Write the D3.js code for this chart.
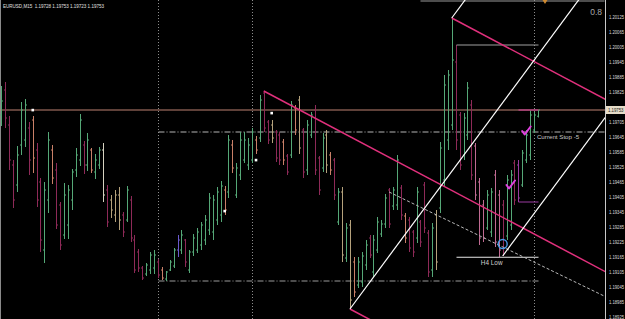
<!DOCTYPE html>
<html><head><meta charset="utf-8">
<script src="https://cdn.jsdelivr.net/npm/d3@7"></script>
<style>html,body{margin:0;padding:0;background:#000;overflow:hidden}</style>
</head><body><svg id="c" width="625" height="319"></svg>
<script>
// ---------- DATA ----------
const symbolTitle = "EURUSD,M15  1.19728 1.19753 1.19723 1.19753";
const highs = [1.19849,1.19865,1.19729,1.19553,1.19609,1.19785,1.19797,1.19705,1.19729,1.19621,
1.19481,1.19465,1.19665,1.19613,1.19541,1.19385,1.19461,1.19453,1.19517,1.19601,
1.19737,1.19629,1.19661,1.19601,1.19577,1.19605,1.19621,1.19453,1.19413,1.19433,
1.19445,1.19345,1.19449,1.19409,1.19253,1.19197,1.19129,1.19141,1.19185,1.19193,
1.19157,1.19125,1.19109,1.19153,1.19201,1.19253,1.19273,1.19237,1.19193,1.19257,
1.19281,1.19305,1.19333,1.19421,1.19413,1.19445,1.19469,1.19449,1.19653,1.19633,
1.19541,1.19665,1.19665,1.19641,1.19681,1.19649,1.19813,1.19829,1.19713,1.19713,
1.19673,1.19665,1.19637,1.19577,1.19789,1.19773,1.19809,1.19681,1.19713,1.19745,
1.19773,1.19569,1.19661,1.19673,1.19585,1.19561,1.19441,1.19445,1.19301,1.19313,
1.19165,1.19165,1.19185,1.19233,1.19253,1.19253,1.19325,1.19313,1.19417,1.19441,
1.19445,1.19573,1.19453,1.19341,1.19325,1.19273,1.19445,1.19313,1.19465,1.19273,
1.19301,1.19353,1.19625,1.19893,1.19913,1.20121,1.20013,1.19745,1.19741,1.19865,
1.19793,1.19621,1.19481,1.19393,1.19433,1.19441,1.19513,1.19433,1.19393,1.19493,
1.19513,1.19553,1.19553,1.19593,1.19673,1.19753,1.19745,1.19753];
const lows = [1.19689,1.19681,1.19513,1.19361,1.19425,1.19573,1.19605,1.19493,1.19501,1.19365,
1.19185,1.19141,1.19341,1.19457,1.19277,1.19193,1.19237,1.19237,1.19353,1.19485,
1.19529,1.19497,1.19509,1.19501,1.19477,1.19517,1.19385,1.19285,1.19321,1.19305,
1.19273,1.19245,1.19305,1.19225,1.19101,1.19105,1.19073,1.19089,1.19097,1.19097,
1.19081,1.19073,1.19069,1.19109,1.19121,1.19165,1.19177,1.19125,1.19101,1.19169,
1.19181,1.19193,1.19213,1.19253,1.19233,1.19293,1.19305,1.19333,1.19401,1.19501,
1.19401,1.19473,1.19541,1.19513,1.19541,1.19577,1.19625,1.19665,1.19617,1.19621,
1.19545,1.19533,1.19533,1.19493,1.19561,1.19653,1.19577,1.19481,1.19493,1.19641,
1.19493,1.19413,1.19505,1.19501,1.19493,1.19393,1.19293,1.19145,1.19145,1.18957,
1.19005,1.19041,1.19045,1.19113,1.19161,1.19085,1.19181,1.19245,1.19281,1.19281,
1.19353,1.19353,1.19313,1.19221,1.19185,1.19165,1.19221,1.19205,1.19261,1.19085,
1.19085,1.19113,1.19341,1.19445,1.19593,1.19673,1.19593,1.19513,1.19553,1.19633,
1.19473,1.19393,1.19213,1.19225,1.19273,1.19245,1.19205,1.19165,1.19169,1.19233,
1.19273,1.19373,1.19385,1.19445,1.19541,1.19553,1.19661,1.19723];
const opens = [1.19733,1.19833,1.19693,1.19533,1.19453,1.19613,1.19633,1.19681,1.19713,1.19593,
1.19465,1.19193,1.19393,1.19593,1.19513,1.19373,1.19253,1.19293,1.19393,1.19513,
1.19553,1.19613,1.19533,1.19593,1.19505,1.19533,1.19593,1.19433,1.19393,1.19333,
1.19413,1.19333,1.19313,1.19393,1.19233,1.19185,1.19121,1.19097,1.19113,1.19121,
1.19145,1.19113,1.19077,1.19113,1.19129,1.19193,1.19193,1.19233,1.19113,1.19185,
1.19193,1.19213,1.19233,1.19273,1.19265,1.19313,1.19333,1.19433,1.19425,1.19613,
1.19413,1.19493,1.19553,1.19533,1.19553,1.19633,1.19641,1.19821,1.19705,1.19693,
1.19665,1.19653,1.19625,1.19569,1.19573,1.19761,1.19793,1.19673,1.19513,1.19653,
1.19753,1.19561,1.19521,1.19653,1.19573,1.19553,1.19305,1.19425,1.19161,1.19293,
1.19145,1.19053,1.19065,1.19133,1.19241,1.19105,1.19193,1.19257,1.19297,1.19433,
1.19369,1.19373,1.19441,1.19329,1.19313,1.19265,1.19241,1.19305,1.19453,1.19261,
1.19113,1.19333,1.19361,1.19473,1.19633,1.19693,1.19945,1.19733,1.19573,1.19653,
1.19773,1.19609,1.19465,1.19373,1.19281,1.19265,1.19493,1.19413,1.19373,1.19249,
1.19293,1.19541,1.19533,1.19453,1.19553,1.19573,1.19673,1.19728];
const closes = [1.19789,1.19721,1.19553,1.19393,1.19573,1.19753,1.19773,1.19553,1.19561,1.19393,
1.19233,1.19433,1.19633,1.19481,1.19293,1.19213,1.19413,1.19433,1.19505,1.19573,
1.19713,1.19533,1.19633,1.19513,1.19553,1.19593,1.19413,1.19305,1.19353,1.19413,
1.19313,1.19265,1.19433,1.19241,1.19113,1.19121,1.19081,1.19133,1.19173,1.19173,
1.19093,1.19081,1.19105,1.19145,1.19193,1.19233,1.19253,1.19145,1.19185,1.19241,
1.19265,1.19293,1.19313,1.19401,1.19393,1.19425,1.19449,1.19353,1.19633,1.19521,
1.19521,1.19633,1.19633,1.19613,1.19665,1.19593,1.19793,1.19681,1.19633,1.19641,
1.19561,1.19553,1.19553,1.19505,1.19773,1.19673,1.19601,1.19505,1.19693,1.19733,
1.19513,1.19433,1.19641,1.19533,1.19513,1.19413,1.19425,1.19173,1.19281,1.18993,
1.19025,1.19145,1.19169,1.19213,1.19173,1.19233,1.19305,1.19297,1.19401,1.19297,
1.19433,1.19553,1.19333,1.19241,1.19201,1.19185,1.19425,1.19225,1.19281,1.19105,
1.19281,1.19145,1.19601,1.19853,1.19893,1.19953,1.19633,1.19533,1.19721,1.19841,
1.19493,1.19413,1.19241,1.19241,1.19413,1.19425,1.19225,1.19193,1.19201,1.19473,
1.19493,1.19393,1.19401,1.19581,1.19653,1.19733,1.19733,1.19753];
const barColorCodes = "grrrgggrsr"+"rggsrrgggg"+"grgsggwrtt"+"trgrrrrggg"+"rsgggbgrgg"+
  "gggggggsgs"+"gggggsgrrt"+"rrsrgstrgg"+"rrgtsrgtgt"+"sgggrggggr"+"ggrsrrgrrr"+
  "gtggggrrgg"+"rpppggpprg"+"grvggggg";
const priceLabels = [1.20125,1.20065,1.20005,1.19945,1.19885,1.19825,1.19705,1.19645,1.19585,
  1.19525,1.19465,1.19405,1.19345,1.19285,1.19225,1.19165,1.19105,1.19045,1.18985,1.18925];
const bidPrice = 1.19753;
const separatorBars = [40, 64, 136];
const stopLine = {from: 40, price: 1.19665, label: "Current Stop -5"};
const lowLine = {from: 40, to: 137, price: 1.19069};
const h4High = {from: 116, to: 137, price: 1.20013};
const h4Low = {from: 116, to: 137, price: 1.19164, label: "H4 Low"};
const topLine = {from: 107, to: 154, price: 1.20189};
const violetSeg = {from: 132, to: 137, price: 1.19385};
const magentaSeg = {from: 132, to: 137, price: 1.19753};
const pinkFork = [[67, 1.19829], [115, 1.20121], [89, 1.18957]];
const whiteFork = [[89, 1.18957], [115, 1.20121], [128, 1.19169]];
const dashTrend = [[99, 1.19425], [137, 1.19137]];
const fractalDots = [[8, 1.19753], [69, 1.19741], [65, 1.19553], [57, 1.19349]];
const checkMarks = [[134, 1.19669], [130, 1.19453]];
const circleMark = [128, 1.19217];
const shiftMarker = 138.8;
const indicatorLevel = "0.8";

// ---------- SCALES ----------
const W = 625, H = 319, plotRight = 605;
const xS = d3.scaleLinear().domain([0, 137]).range([1.33, 537.92]);
const yS = d3.scaleLinear().domain([1.20193, 1.18917]).range([0, 319]);
const colorMap = {g:"#55a877", r:"#8e2a58", s:"#c98068", t:"#b5a27c", w:"#d6d2c0",
  b:"#6a5acd", p:"#c06a92", v:"#9a3aa0"};
const FONT = "'Liberation Sans', Arial, sans-serif";

const svg = d3.select('#c');
svg.append('rect').attr('width', W).attr('height', H).attr('fill', '#000');
svg.append('defs').append('clipPath').attr('id', 'plot')
  .append('rect').attr('x', 0).attr('y', 0).attr('width', plotRight).attr('height', H);
const g = svg.append('g').attr('clip-path', 'url(#plot)');
const px = i => Math.round(xS(i)) + 0.5;

// left border
g.append('line').attr('x1', 0.5).attr('x2', 0.5).attr('y1', 0).attr('y2', H)
  .attr('stroke', '#8a8a8a').attr('stroke-width', 1);

// separators
g.selectAll('.sep').data(separatorBars).join('line')
  .attr('x1', d => px(d)).attr('x2', d => px(d)).attr('y1', 0).attr('y2', H)
  .attr('stroke', '#8c8c8c').attr('stroke-width', 1).attr('stroke-dasharray', '1,2');

// horizontal lines
g.append('line').attr('x1', 0).attr('x2', plotRight).attr('y1', yS(bidPrice)).attr('y2', yS(bidPrice))
  .attr('stroke', '#be8273').attr('stroke-width', 1);
g.append('line').attr('x1', px(stopLine.from)).attr('x2', plotRight)
  .attr('y1', yS(stopLine.price)).attr('y2', yS(stopLine.price))
  .attr('stroke', '#b4b4b4').attr('stroke-width', 1).attr('stroke-dasharray', '6,2,1,2');
g.append('line').attr('x1', px(lowLine.from)).attr('x2', px(lowLine.to))
  .attr('y1', yS(lowLine.price)).attr('y2', yS(lowLine.price))
  .attr('stroke', '#9a9a9a').attr('stroke-width', 1).attr('stroke-dasharray', '6,2,1,2');
g.append('line').attr('x1', px(topLine.from)).attr('x2', xS(topLine.to))
  .attr('y1', yS(topLine.price)).attr('y2', yS(topLine.price))
  .attr('stroke', '#9a9a9a').attr('stroke-width', 1.2);

// bars
const bars = d3.range(highs.length).map(i => ({i, h: highs[i], l: lows[i], o: opens[i], c: closes[i],
  col: colorMap[barColorCodes[i]]}));
const bg = g.append('g');
bg.selectAll('.hl').data(bars).join('line')
  .attr('x1', d => px(d.i)).attr('x2', d => px(d.i))
  .attr('y1', d => yS(d.h)).attr('y2', d => yS(d.l))
  .attr('stroke', d => d.col).attr('stroke-width', 1);
bg.selectAll('.op').data(bars).join('line')
  .attr('x1', d => px(d.i) - 1.5).attr('x2', d => px(d.i))
  .attr('y1', d => yS(d.o)).attr('y2', d => yS(d.o))
  .attr('stroke', d => d.col).attr('stroke-width', 1);
bg.selectAll('.cl').data(bars).join('line')
  .attr('x1', d => px(d.i)).attr('x2', d => px(d.i) + 1.5)
  .attr('y1', d => yS(d.c)).attr('y2', d => yS(d.c))
  .attr('stroke', d => d.col).attr('stroke-width', 1);

// short object segments
g.append('line').attr('x1', px(h4High.from)).attr('x2', px(h4High.to))
  .attr('y1', yS(h4High.price)).attr('y2', yS(h4High.price))
  .attr('stroke', '#a0a0a0').attr('stroke-width', 1);
g.append('line').attr('x1', px(h4Low.from)).attr('x2', px(h4Low.to))
  .attr('y1', yS(h4Low.price)).attr('y2', yS(h4Low.price))
  .attr('stroke', '#e8e8e8').attr('stroke-width', 1);
g.append('line').attr('x1', px(violetSeg.from)).attr('x2', px(violetSeg.to))
  .attr('y1', yS(violetSeg.price)).attr('y2', yS(violetSeg.price))
  .attr('stroke', '#9a3aa0').attr('stroke-width', 1);
g.append('line').attr('x1', px(magentaSeg.from)).attr('x2', px(magentaSeg.to))
  .attr('y1', yS(magentaSeg.price)).attr('y2', yS(magentaSeg.price))
  .attr('stroke', '#b0407e').attr('stroke-width', 1.5);

// dashed trend ray
(function(){
  const a = [xS(dashTrend[0][0]), yS(dashTrend[0][1])], b = [xS(dashTrend[1][0]), yS(dashTrend[1][1])];
  g.append('line').attr('x1', a[0]).attr('y1', a[1])
    .attr('x2', a[0] + 5*(b[0]-a[0])).attr('y2', a[1] + 5*(b[1]-a[1]))
    .attr('stroke', '#b8b8b8').attr('stroke-width', 1).attr('stroke-dasharray', '3,2');
})();

// pitchforks
function fork(piv, color, w){
  const P = piv.map(d => [xS(d[0]), yS(d[1])]);
  const M = [(P[1][0]+P[2][0])/2, (P[1][1]+P[2][1])/2];
  const dx = M[0]-P[0][0], dy = M[1]-P[0][1];
  const k = 12;
  g.selectAll(null).data(P).join('line')
    .attr('x1', p => p[0]).attr('y1', p => p[1])
    .attr('x2', p => p[0]+k*dx).attr('y2', p => p[1]+k*dy)
    .attr('stroke', color).attr('stroke-width', w);
}
fork(pinkFork, '#e0307c', 1.5);
fork(whiteFork, '#ffffff', 1.2);

// markers
g.selectAll('.dot').data(fractalDots).join('rect')
  .attr('x', d => xS(d[0]) - 1.2).attr('y', d => yS(d[1]) - 1.2)
  .attr('width', 2.6).attr('height', 2.6).attr('fill', '#ffffff');
g.selectAll('.chk').data(checkMarks).join('path')
  .attr('d', d => { const x = xS(d[0]), y = yS(d[1]);
    return `M${x-4},${y} L${x-1.5},${y+3.5} L${x+4.5},${y-4.5}`; })
  .attr('fill', 'none').attr('stroke', '#e040e0').attr('stroke-width', 2)
  .attr('stroke-linecap', 'round').attr('stroke-linejoin', 'round');
g.append('circle').attr('cx', xS(circleMark[0])).attr('cy', yS(circleMark[1])).attr('r', 4.5)
  .attr('fill', 'none').attr('stroke', '#4a9ae8').attr('stroke-width', 1.4);
g.append('path')
  .attr('d', `M${xS(shiftMarker)-2.5},0 L${xS(shiftMarker)+2.5},0 L${xS(shiftMarker)},4 Z`)
  .attr('fill', '#d08a30');

// texts in plot
g.append('text').attr('x', xS(137) - 1).attr('y', yS(stopLine.price) + 7.2)
  .attr('fill', '#c8c8c8').attr('font-family', FONT).attr('font-size', 6.2).text(stopLine.label);
g.append('text').attr('x', xS(125.2)).attr('y', yS(h4Low.price) + 7.8).attr('text-anchor', 'middle')
  .attr('fill', '#d0d0d0').attr('font-family', FONT).attr('font-size', 6.4).text(h4Low.label);
svg.append('text').attr('x', 3).attr('y', 8).attr('fill', '#e0e0e0').attr('font-family', FONT)
  .attr('font-size', 4.6).attr('textLength', 101).attr('lengthAdjust', 'spacingAndGlyphs')
  .attr('xml:space', 'preserve').text(symbolTitle);
svg.append('text').attr('x', 602).attr('y', 15).attr('text-anchor', 'end').attr('fill', '#a8a8a8')
  .attr('font-family', FONT).attr('font-size', 8.5).text(indicatorLevel);

// right axis
svg.append('line').attr('x1', plotRight + 0.5).attr('x2', plotRight + 0.5).attr('y1', 0).attr('y2', H)
  .attr('stroke', '#c8c8c8').attr('stroke-width', 1);
svg.selectAll('.pl').data(priceLabels).join('text')
  .attr('x', 609).attr('y', d => yS(d) + 1.7)
  .attr('fill', '#dcdcdc').attr('font-family', FONT).attr('font-size', 4.6)
  .attr('textLength', 15).attr('lengthAdjust', 'spacingAndGlyphs')
  .text(d => d.toFixed(5));
svg.append('rect').attr('x', 606).attr('y', yS(bidPrice) - 4).attr('width', 19).attr('height', 8)
  .attr('fill', '#e6dcc8');
svg.append('text').attr('x', 608).attr('y', yS(bidPrice) + 1.8)
  .attr('fill', '#202020').attr('font-family', FONT).attr('font-size', 4.8)
  .attr('textLength', 15.5).attr('lengthAdjust', 'spacingAndGlyphs')
  .text(bidPrice.toFixed(5));
</script></body></html>
